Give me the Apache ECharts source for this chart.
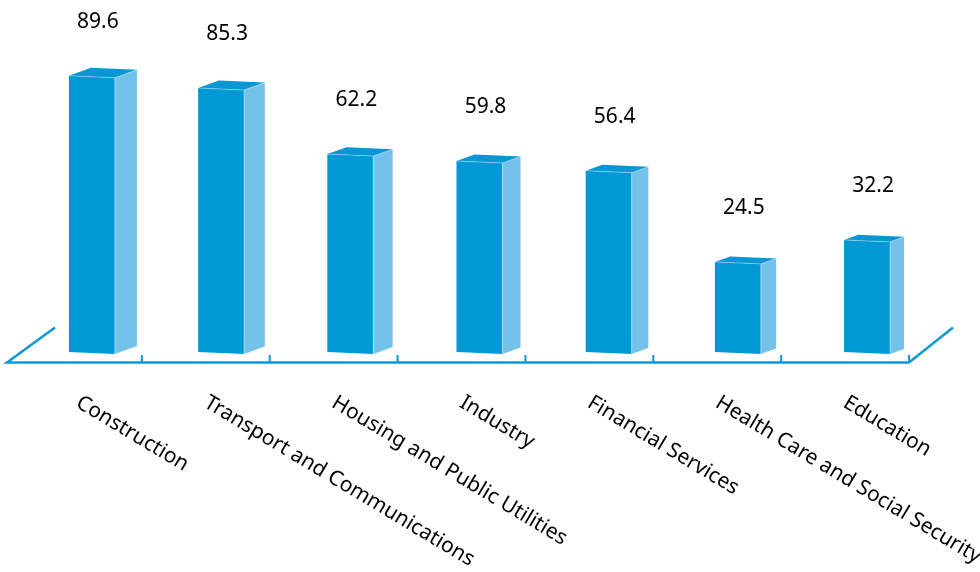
<!DOCTYPE html>
<html>
<head>
<meta charset="utf-8">
<script src="https://cdn.jsdelivr.net/npm/echarts@6/dist/echarts.min.js"></script>
<style>
  html, body { margin: 0; padding: 0; background: #ffffff; }
  #chart { width: 980px; height: 572px; }
</style>
</head>
<body>
<div id="chart"></div>
<script>
// Sectors and their values
const categories = [
  'Construction',
  'Transport and Communications',
  'Housing and Public Utilities',
  'Industry',
  'Financial Services',
  'Health Care and Social Security',
  'Education'
];
const values = [89.6, 85.3, 62.2, 59.8, 56.4, 24.5, 32.2];

// Value range of the hidden axis (floor sits a little below zero)
const Y_MIN = -7;
const Y_MAX = 100;

const FRONT = '#0099d6';
const SIDE = '#74c2e9';
const TOP = '#0a95d3';
const FLOOR = '#0a9ad8';
const FONT = '"Noto Sans", "Open Sans", sans-serif';

const chart = echarts.init(document.getElementById('chart'), null, { renderer: 'canvas' });

function renderBox(params, api) {
  const i = api.value(0);
  const val = api.value(1);
  const n = categories.length;
  const top = api.coord([i, val]);
  const base = api.coord([i, Y_MIN]);
  const band = api.size([1, 0])[0];
  const cx = top[0];
  const yTop = top[1];
  const yBase = base[1];

  // side depth shrinks slightly from left to right
  const depth = 22 - 8 * i / (n - 1);
  const dy = depth * 0.36;
  const x1 = cx + 59 - depth;
  const x0 = x1 - 46;

  const children = [];
  // front face
  children.push({
    type: 'polygon',
    shape: { points: [[x0, yTop - 1], [x1, yTop + 1], [x1, yBase + 1], [x0, yBase - 1]] },
    style: { fill: FRONT }
  });
  // right side face
  children.push({
    type: 'polygon',
    shape: { points: [[x1, yTop + 1], [x1 + depth, yTop + 1 - dy], [x1 + depth, yBase + 1 - dy], [x1, yBase + 1]] },
    style: { fill: SIDE }
  });
  // top face
  children.push({
    type: 'polygon',
    shape: { points: [[x0, yTop - 1], [x0 + depth, yTop - 1 - dy], [x1 + depth, yTop + 1 - dy], [x1, yTop + 1]] },
    style: { fill: TOP }
  });
  // light edges
  children.push({
    type: 'polyline',
    shape: { points: [[x0, yTop - 1], [x1, yTop + 1], [x1 + depth, yTop + 1 - dy]] },
    style: { stroke: 'rgba(255,255,255,0.35)', lineWidth: 1, fill: null }
  });
  children.push({
    type: 'line',
    shape: { x1: x1, y1: yTop + 1, x2: x1, y2: yBase + 1 },
    style: { stroke: 'rgba(255,255,255,0.4)', lineWidth: 1 }
  });

  // value label
  children.push({
    type: 'text',
    x: (x0 + x1) / 2 + 6,
    y: yTop - 55,
    style: {
      text: val.toFixed(1),
      font: '21px ' + FONT,
      fill: '#000000',
      align: 'center',
      verticalAlign: 'middle'
    }
  });

  // floor: base line with tick at the right edge of each band
  const axisY = yBase + 9.5;
  const xr = cx + band / 2;
  children.push({
    type: 'line',
    shape: { x1: xr, y1: axisY, x2: xr, y2: axisY - 7.5 },
    style: { stroke: FLOOR, lineWidth: 2 }
  });
  if (i === 0) {
    const cs = params.coordSys;
    const gx = cs.x, gw = cs.width;
    children.push({
      type: 'polyline',
      shape: {
        points: [
          [gx + 41, axisY - 35],
          [gx - 7, axisY],
          [gx + gw, axisY],
          [gx + gw + 44, axisY - 35]
        ]
      },
      style: { stroke: FLOOR, lineWidth: 2.5, fill: null, lineJoin: 'miter' }
    });
  }
  return { type: 'group', children: children };
}

chart.setOption({
  animation: false,
  backgroundColor: '#ffffff',
  grid: {
    left: 14,
    right: 71,
    top: 47,
    bottom: 219,
    containLabel: false,
    outerBoundsMode: 'none'
  },
  xAxis: {
    type: 'category',
    data: categories,
    axisLine: { show: false },
    axisTick: { show: false },
    splitLine: { show: false },
    axisLabel: {
      interval: 0,
      rotate: -31,
      margin: 48,
      fontSize: 21,
      fontFamily: FONT,
      color: '#000000',
      hideOverlap: false
    }
  },
  yAxis: {
    type: 'value',
    min: Y_MIN,
    max: Y_MAX,
    show: false,
    splitLine: { show: false }
  },
  series: [{
    type: 'custom',
    renderItem: renderBox,
    clip: false,
    data: values.map((v, i) => [i, v]),
    encode: { x: 0, y: 1 }
  }]
});
</script>
</body>
</html>
